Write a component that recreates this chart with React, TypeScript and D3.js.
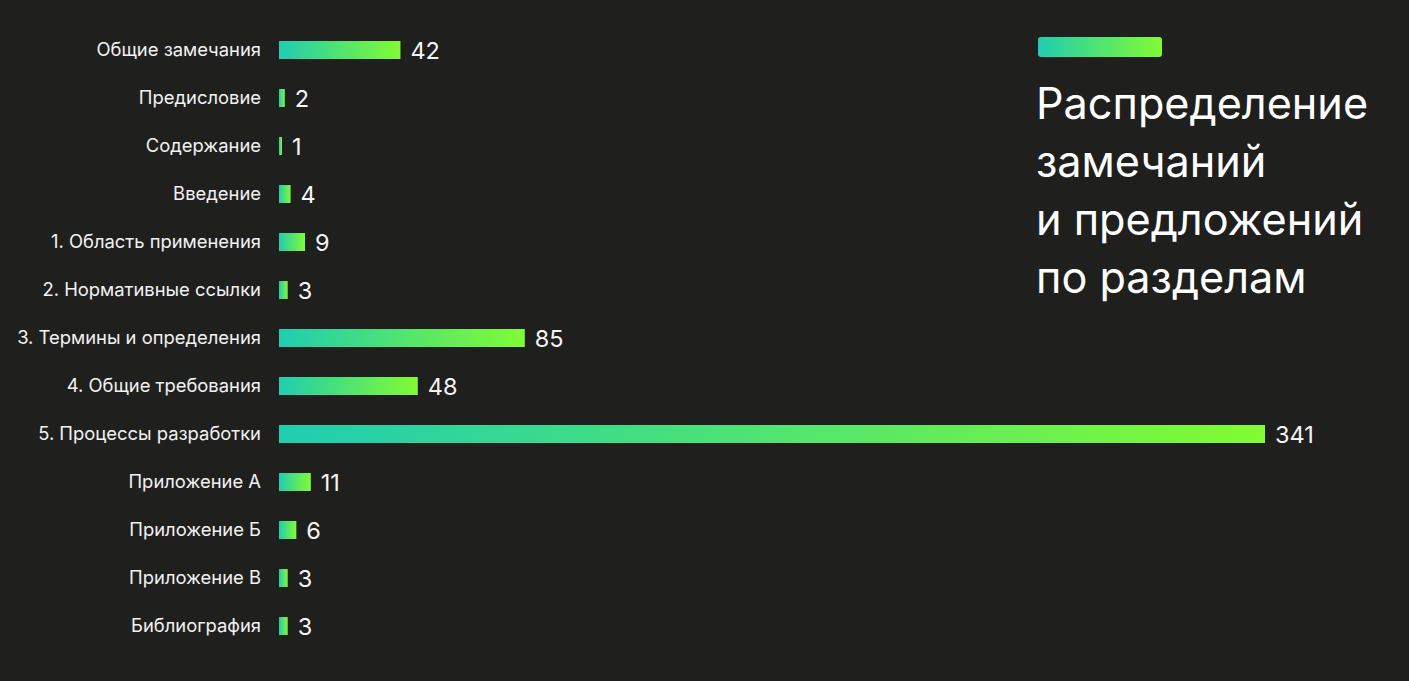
import React from "react";
import * as d3 from "d3";

const categories = [
  "Общие замечания",
  "Предисловие",
  "Содержание",
  "Введение",
  "1. Область применения",
  "2. Нормативные ссылки",
  "3. Термины и определения",
  "4. Общие требования",
  "5. Процессы разработки",
  "Приложение А",
  "Приложение Б",
  "Приложение В",
  "Библиография",
];
const values = [42, 2, 1, 4, 9, 3, 85, 48, 341, 11, 6, 3, 3];
const titleLines = ["Распределение", "замечаний", "и предложений", "по разделам"];

const W = 1409;
const H = 681;
const BG = "#1f1f1e";
const C1 = "#1fcdb0";
const C2 = "#82fb31";
const FONT = "Inter, 'Noto Sans', sans-serif";

export default function App() {
  const x = d3.scaleLinear().domain([0, 341]).range([279, 1265]);
  const y = d3.scaleBand<string>().domain(categories).range([26, 650]).paddingInner(0.625).paddingOuter(0.3125);
  const bh = 18;
  return (
    <svg width={W} height={H} style={{ position: "absolute", left: 0, top: 0, display: "block" }}>
      <defs>
        <linearGradient id="grad" x1="0" y1="0" x2="1" y2="0">
          <stop offset="0" stopColor={C1} />
          <stop offset="1" stopColor={C2} />
        </linearGradient>
      </defs>
      <rect x={0} y={0} width={W} height={H} fill={BG} />
      {categories.map((c, i) => {
        const cy = (y(c) as number) + y.bandwidth() / 2;
        const x0 = x(0);
        const x1 = x(values[i]);
        return (
          <g key={c}>
            <text x={261} y={cy} dy="0.35em" textAnchor="end" fill="#f2f2f2" fontFamily={FONT} fontSize={18.4}>
              {c}
            </text>
            <rect x={x0} y={cy - bh / 2} width={Math.max(x1 - x0, 3)} height={bh} fill="url(#grad)" />
            <text x={x1 + 10} y={cy + 1} dy="0.36em" fill="#f5f5f5" fontFamily={FONT} fontSize={23.5}>
              {values[i]}
            </text>
          </g>
        );
      })}
      <rect x={1038} y={37} width={124} height={20} rx={3} fill="url(#grad)" />
      {titleLines.map((t, i) => (
        <text key={i} x={1036} y={119 + i * 58} fill="#ffffff" fontFamily={FONT} fontSize={43.2}>
          {t}
        </text>
      ))}
    </svg>
  );
}
